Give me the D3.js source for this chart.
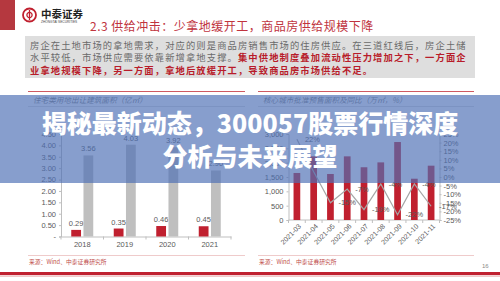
<!DOCTYPE html>
<html>
<head>
<meta charset="utf-8">
<script src="https://cdn.jsdelivr.net/npm/d3@7"></script>
<style>
  body { margin: 0; background: #fff; }
  svg { display: block; }
</style>
</head>
<body>
<script>
// 左图：住宅类用地出让建筑面积（亿㎡）
const landYears = ["2018", "2019", "2020", "2021"];
const landRed = [0.29, 0.35, 0.46, 0.45];
const landGray = [3.56, 4.03, 3.92, 2.90];
const landTicks = [0, 0.5, 1, 1.5, 2, 2.5, 3, 3.5, 4, 4.5];

// 右图：核心城市批准预售面积及同比（万㎡，%）
const months = ["2021-03", "2021-04", "2021-05", "2021-06", "2021-07", "2021-08", "2021-09", "2021-10", "2021-11"];
const presaleArea = [1640, 2220, 1605, 2220, 1840, 2010, 2720, 1440, 1895];
const presaleYoy = [22, 3, -15, -7, -19, -4, -22, -4, -17];
const yoyLabelShown = [true, false, true, true, true, true, true, true, true];
const areaTicks = [0, 500, 1000, 1500, 2000, 2500, 3000];
const yoyTicks = [-25, -20, -15, -10, -5, 0, 5, 10, 15, 20, 25];

const RED = "#c0202f", GRAY = "#bfbfbf", TXT = "#595959";
const CJK = "'Noto Sans CJK SC', sans-serif";
const NUM = "'Liberation Sans', Arial, sans-serif";

let svg = d3.select("body").append("svg").attr("width", 500).attr("height", 281);

//页眉
svg.append("rect").attr("x", 0).attr("y", 0).attr("width", 15).attr("height", 30).attr("fill", "#b5383f");
let logo = svg.append("g").attr("transform", "translate(29.5,15)");
logo.append("circle").attr("r", 6.5).attr("fill", "none").attr("stroke", "#c0202f").attr("stroke-width", 1.8);
logo.append("circle").attr("r", 2.6).attr("fill", "none").attr("stroke", "#c0202f").attr("stroke-width", 1.3);
logo.append("line").attr("x1", 0).attr("x2", 0).attr("y1", -5).attr("y2", 5).attr("stroke", "#c0202f").attr("stroke-width", 1.3);
svg.append("text").attr("x", 41).attr("y", 18).attr("font-family", CJK).attr("font-weight", "bold")
  .attr("font-size", 10.5).attr("fill", "#222").text("中泰证券");
svg.append("text").attr("x", 41).attr("y", 22.5).attr("font-family", NUM).attr("font-size", 3.2)
  .attr("fill", "#444").text("ZHONGTAI SECURITIES");
svg.append("text").attr("x", 90).attr("y", 30.5).attr("font-family", CJK).attr("font-size", 12)
  .attr("letter-spacing", 0.5).attr("fill", "#c0343e").text("2.3 供给冲击：少拿地缓开工，商品房供给规模下降");

//摘要框
svg.append("rect").attr("x", 25).attr("y", 36).attr("width", 450).attr("height", 42).attr("fill", "#dedede");
let lines = [
  [["房企在土地市场的拿地需求，对应的则是商品房销售市场的住房供应。在三道红线后，房企土储", false]],
  [["水平较低，市场供应需要依靠新增拿地支撑。", false], ["集中供地制度叠加流动性压力增加之下，一方面企", true]],
  [["业拿地规模下降，另一方面，拿地后放缓开工，导致商品房市场供给不足。", true]]
];
lines.forEach((ln, i) => {
  let t = svg.append("text").attr("x", 30).attr("y", 49 + i * 12.3).attr("font-family", CJK)
    .attr("font-size", 9.3).attr("letter-spacing", 1.1);
  ln.forEach(seg => {
    t.append("tspan").attr("fill", seg[1] ? "#b81c2a" : "#6a6a6a")
      .attr("font-weight", seg[1] ? "bold" : "normal").text(seg[0]);
  });
});

//图表标题与分隔线
[[28, 245, "住宅类用地出让建筑面积（亿㎡）", 33], [258, 474, "核心城市批准预售面积及同比（万㎡，%）", 263]].forEach(p => {
  svg.append("line").attr("x1", p[0]).attr("x2", p[1]).attr("y1", 91.5).attr("y2", 91.5)
    .attr("stroke", "#c9474f").attr("stroke-width", 0.9);
  svg.append("text").attr("x", p[3]).attr("y", 103).attr("font-family", CJK).attr("font-size", 7.6)
    .attr("font-style", "italic").attr("fill", "#7f7f7f").text(p[2]);
  svg.append("line").attr("x1", p[0]).attr("x2", p[1]).attr("y1", 106.5).attr("y2", 106.5)
    .attr("stroke", "#c8c8c8").attr("stroke-width", 0.6);
  svg.append("line").attr("x1", p[0]).attr("x2", p[1]).attr("y1", 255.5).attr("y2", 255.5)
    .attr("stroke", "#e8b4b4").attr("stroke-width", 0.7);
  svg.append("text").attr("x", p[0] + 1).attr("y", 263.5).attr("font-family", CJK).attr("font-size", 5.8)
    .attr("fill", "#c0504d").text("来源：Wind、中泰证券研究所");
});

//左图
let x0 = d3.scaleBand().domain(landYears).range([61, 231]);
let x1 = d3.scaleBand().domain(["red", "gray"]).range([-11, 11]).paddingInner(0.2);
let yL = d3.scaleLinear().domain([0, 4.5]).range([236.5, 134]);
let left = svg.append("g");
left.append("g").attr("transform", "translate(61,0)")
  .call(d3.axisLeft(yL).tickValues(landTicks).tickSize(2).tickPadding(3)
    .tickFormat(d => d === 0 ? "-" : d3.format(".2f")(d)))
  .call(g => {
    g.select(".domain").attr("stroke", "#bfbfbf");
    g.selectAll(".tick line").attr("stroke", "#bfbfbf");
    g.selectAll("text").attr("font-family", NUM).attr("font-size", 7.5).attr("fill", TXT);
  });
left.append("g").attr("transform", "translate(0,236.5)")
  .call(d3.axisBottom(x0).tickSize(0).tickPadding(5))
  .call(g => {
    g.select(".domain").attr("stroke", "#bfbfbf");
    g.selectAll("text").attr("font-family", NUM).attr("font-size", 7.5).attr("fill", TXT);
  });
left.selectAll(".bnd").data(landYears.concat(["end"])).join("line")
  .attr("x1", (d, i) => x0.range()[0] + i * x0.step()).attr("x2", (d, i) => x0.range()[0] + i * x0.step())
  .attr("y1", 236.5).attr("y2", 239.5).attr("stroke", "#bfbfbf");
let cx = d => x0(d) + x0.bandwidth() / 2;
[["red", landRed, RED], ["gray", landGray, GRAY]].forEach(s => {
  left.selectAll(".b" + s[0]).data(landYears).join("rect")
    .attr("x", d => cx(d) + x1(s[0])).attr("width", x1.bandwidth())
    .attr("y", (d, i) => yL(s[1][i])).attr("height", (d, i) => yL(0) - yL(s[1][i])).attr("fill", s[2]);
  left.selectAll(".l" + s[0]).data(landYears).join("text")
    .attr("x", d => cx(d) + x1(s[0]) + x1.bandwidth() / 2).attr("y", (d, i) => yL(s[1][i]) - 4)
    .attr("text-anchor", "middle").attr("font-family", NUM).attr("font-size", 7.5).attr("fill", TXT)
    .text((d, i) => d3.format(".2f")(s[1][i]));
});

//右图
let xr = d3.scaleBand().domain(months).range([288.5, 439.5]).paddingInner(0.6).paddingOuter(0.3);
let yA = d3.scaleLinear().domain([0, 3000]).range([220, 134]);
let yP = d3.scaleLinear().domain([-25, 25]).range([220, 134]);
let right = svg.append("g");
right.append("g").attr("transform", "translate(288.5,0)")
  .call(d3.axisLeft(yA).tickValues(areaTicks).tickSize(2).tickPadding(3))
  .call(g => {
    g.select(".domain").attr("stroke", "#bfbfbf");
    g.selectAll(".tick line").attr("stroke", "#bfbfbf");
    g.selectAll("text").attr("font-family", NUM).attr("font-size", 7.5).attr("fill", TXT);
  });
right.append("g").attr("transform", "translate(439.5,0)")
  .call(d3.axisRight(yP).tickValues(yoyTicks).tickSize(2).tickPadding(2).tickFormat(d => d + "%"))
  .call(g => {
    g.select(".domain").attr("stroke", "#bfbfbf");
    g.selectAll(".tick line").attr("stroke", "#bfbfbf");
    g.selectAll("text").attr("font-family", NUM).attr("font-size", 7.5).attr("fill", TXT);
  });
right.append("line").attr("x1", 288.5).attr("x2", 439.5).attr("y1", 220).attr("y2", 220).attr("stroke", "#bfbfbf");
right.selectAll(".bnd").data(months.concat(["end"])).join("line")
  .attr("x1", (d, i) => 288.5 + i * xr.step()).attr("x2", (d, i) => 288.5 + i * xr.step())
  .attr("y1", 220).attr("y2", 223).attr("stroke", "#bfbfbf");
let mx = d => xr(d) + xr.bandwidth() / 2;
right.selectAll(".bar").data(months).join("rect")
  .attr("x", d => xr(d)).attr("width", xr.bandwidth())
  .attr("y", (d, i) => yA(presaleArea[i])).attr("height", (d, i) => yA(0) - yA(presaleArea[i])).attr("fill", RED);
right.selectAll(".xl").data(months).join("text")
  .attr("transform", d => "translate(" + (mx(d) + 3) + ",225) rotate(-45)")
  .attr("text-anchor", "end").attr("dy", "0.35em").attr("font-family", NUM).attr("font-size", 7)
  .attr("fill", TXT).text(d => d);
let line = d3.line().x(d => mx(d)).y((d, i) => yP(presaleYoy[i]));
right.append("path").datum(months).attr("d", line).attr("fill", "none")
  .attr("stroke", "#a6a6a6").attr("stroke-width", 1.2);
right.selectAll(".yl").data(months).join("text")
  .attr("x", d => mx(d) + 8).attr("y", (d, i) => yP(presaleYoy[i])).attr("dy", "0.35em")
  .attr("font-family", NUM).attr("font-size", 7.5).attr("fill", TXT)
  .text((d, i) => yoyLabelShown[i] ? presaleYoy[i] + "%" : "");

//页脚
svg.append("text").attr("x", 482).attr("y", 268).attr("font-family", NUM).attr("font-size", 6)
  .attr("fill", "#8a8a8a").text("16");
svg.append("rect").attr("x", 0).attr("y", 272).attr("width", 500).attr("height", 3.2).attr("fill", "#c0202f");
svg.append("rect").attr("x", 0).attr("y", 276).attr("width", 500).attr("height", 1).attr("fill", "#f0c8c8");

//蓝色标题带
svg.append("rect").attr("x", 0).attr("y", 95).attr("width", 500).attr("height", 88)
  .attr("fill", "rgba(78,112,182,0.68)");
["揭秘最新动态，300057股票行情深度", "分析与未来展望"].forEach((s, i) => {
  svg.append("text").attr("x", 250).attr("y", 133 + i * 33).attr("text-anchor", "middle")
    .attr("font-family", CJK).attr("font-weight", 900).attr("font-size", 25).attr("fill", "#fff").text(s);
});
</script>
</body>
</html>
